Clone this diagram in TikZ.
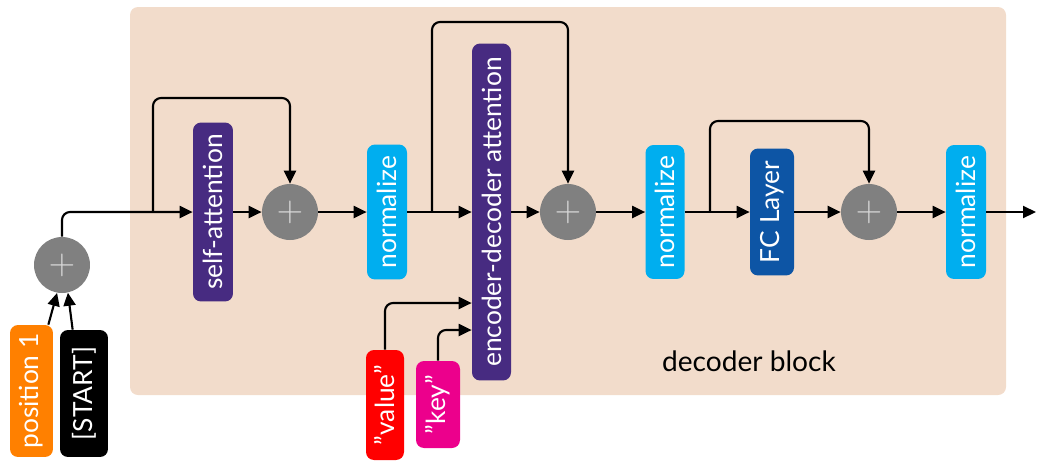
\documentclass[tikz,border=0pt]{standalone}
\usepackage{fontspec}
\setmainfont{Lato}
\usetikzlibrary{arrows.meta}
\usetikzlibrary{positioning}

\definecolor{blockbg}{HTML}{F2DCCB}
\definecolor{attpurple}{HTML}{472B81}
\definecolor{normcyan}{HTML}{00AEEF}
\definecolor{fcblue}{HTML}{0D55A5}
\definecolor{posorange}{HTML}{FF8000}
\definecolor{keypink}{HTML}{EC008C}

\tikzset{
  box/.style={rounded corners=0.16cm, text=white, inner sep=0pt, font=\fontsize{15}{18}\selectfont},
  addnode/.style={circle, fill=gray, minimum size=1.12cm, inner sep=0pt, text=black!15, font=\fontsize{22}{22}\selectfont},
  conn/.style={line width=1.2pt, -{Triangle[length=0.26cm,width=0.24cm]}, rounded corners=0.16cm},
}

\begin{document}
\begin{tikzpicture}[x=0.02cm,y=-0.02cm]
\useasboundingbox (0,0) rectangle (1038,461);
\fill[blockbg, rounded corners=0.16cm] (130,7) rectangle (1006,395);
\node[font=\fontsize{16}{19}\selectfont] (lbl) at (749,361) {decoder block};

% inputs
\node[box, fill=posorange, minimum width=0.86cm, minimum height=2.64cm] (pos) at (31.5,391) {\rotatebox{90}{position 1}};
\node[box, fill=black, minimum width=0.96cm, minimum height=2.54cm] (start) at (84,393.5) {\rotatebox{90}{[START]}};
\node[addnode] (add0) at (62,265) {$+$};

% decoder
\node[box, fill=attpurple, minimum width=0.8cm, minimum height=3.58cm] (selfatt) at (213,212) {\rotatebox{90}{self-attention}};
\node[addnode] (add1) at (290,212) {$+$};
\node[box, fill=normcyan, minimum width=0.8cm, minimum height=2.7cm] (norm1) at (387,212) {\rotatebox{90}{normalize}};
\node[box, fill=attpurple, minimum width=0.78cm, minimum height=6.74cm] (encdec) at (491.5,212) {\rotatebox{90}{encoder-decoder attention}};
\node[box, fill=red, minimum width=0.76cm, minimum height=2.2cm] (value) at (385,405) {\rotatebox{90}{''value''}};
\node[box, fill=keypink, minimum width=0.88cm, minimum height=1.74cm] (key) at (438,404.5) {\rotatebox{90}{''key''}};
\node[addnode] (add2) at (568,212) {$+$};
\node[box, fill=normcyan, minimum width=0.78cm, minimum height=2.68cm] (norm2) at (665,212) {\rotatebox{90}{normalize}};
\node[box, fill=fcblue, minimum width=0.88cm, minimum height=2.54cm] (fc) at (772,212) {\rotatebox{90}{FC Layer}};
\node[addnode] (add3) at (869,212) {$+$};
\node[box, fill=normcyan, minimum width=0.8cm, minimum height=2.68cm] (norm3) at (966,212) {\rotatebox{90}{normalize}};

\coordinate (out) at (1036,212);
\coordinate (br1) at (153,212);
\coordinate (br2) at (432,212);
\coordinate (br3) at (710,212);
\coordinate (top1) at (153,98);
\coordinate (top2) at (432,22);
\coordinate (top3) at (710,121);
\coordinate (vin) at (466,303);
\coordinate (kin) at (466,330);

\draw[conn] ([xshift=-0.1cm]pos.north east) -- (add0.260);
\draw[conn] ([xshift=0.26cm]start.north west) -- (add0.282);
\draw[conn] (add0.north) |- (selfatt.west);
\draw[conn] (selfatt) -- (add1);
\draw[conn] (br1) -- (top1) -| (add1.north);
\draw[conn] (add1) -- (norm1);
\draw[conn] (norm1) -- (encdec);
\draw[conn] (br2) -- (top2) -| (add2.north);
\draw[conn] (value.north) |- (encdec.west |- vin);
\draw[conn] (key.north) |- (encdec.west |- kin);
\draw[conn] (encdec) -- (add2);
\draw[conn] (add2) -- (norm2);
\draw[conn] (norm2) -- (fc);
\draw[conn] (br3) -- (top3) -| (add3.north);
\draw[conn] (fc) -- (add3);
\draw[conn] (add3) -- (norm3);
\draw[conn] (norm3) -- (out);

\end{tikzpicture}
\end{document}
